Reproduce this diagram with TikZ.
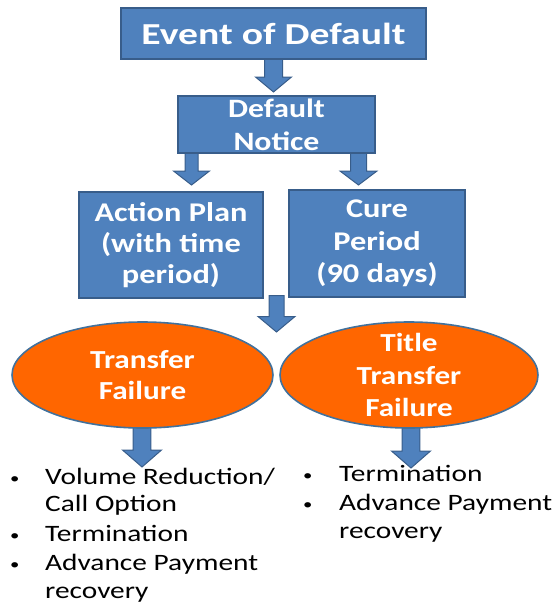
\documentclass[tikz,border=0pt]{standalone}
\usepackage{fontspec}
\setmainfont{Carlito}
\newfontfamily\boxfont[FakeStretch=1.2]{Carlito}
\newfontfamily\topfont[FakeStretch=1.3]{Carlito}
\newfontfamily\listfont[FakeStretch=1.25]{Carlito}
\usetikzlibrary{shapes.geometric,calc,backgrounds}
\definecolor{boxblue}{HTML}{4F81BD}
\definecolor{bordblue}{HTML}{385D8A}
\definecolor{ovorange}{HTML}{FF6600}
\definecolor{ovborder}{HTML}{41719C}
\newcommand\barw[5]{%
  \path[barrow] let \p1=(#1), \p2=(#2) in
    (\x2-#3,\y1+3pt) -- (\x2+#3,\y1+3pt) -- (\x2+#3,\y2+#5) -- (\x2+#4,\y2+#5)
    -- (\x2,\y2) -- (\x2-#4,\y2+#5) -- (\x2-#3,\y2+#5) -- cycle;}
\newcommand\bul{\raisebox{1pt}{\fontsize{15}{15}\selectfont •}}
\begin{document}
\begin{tikzpicture}[x=1pt,y=-1pt,
  bx/.style={draw=bordblue, fill=boxblue, line width=1.3pt, inner sep=0pt,
    text=white, align=center},
  ov/.style={ellipse, draw=ovborder, fill=ovorange, line width=1.6pt, inner sep=0pt},
  ovtext/.style={text=white, align=center, inner sep=0pt,
    font=\boxfont\bfseries\fontsize{26}{31.5}\selectfont},
  barrow/.style={draw=bordblue, fill=boxblue, line width=1pt, line join=miter},
  lst/.style={anchor=base west, inner sep=0pt, font=\listfont\fontsize{23.5}{27.5}\selectfont}]
\useasboundingbox (0,0) rectangle (556,611);

% boxes
\node[bx, minimum width=305pt, minimum height=51pt,
  font=\topfont\bfseries\fontsize{30.5}{36}\selectfont] (eod) at (273.5,33.5) {Event of Default};
\node[bx, minimum width=197pt, minimum height=57pt,
  font=\boxfont\bfseries\fontsize{26.5}{33}\selectfont] (dn) at (276.5,124.5) {Default\\Notice};
\node[bx, minimum width=184pt, minimum height=106pt,
  font=\boxfont\bfseries\fontsize{27}{31}\selectfont] (ap) at (171,245) {Action Plan\\(with time\\period)};
\node[bx, minimum width=176pt, minimum height=107pt,
  font=\boxfont\bfseries\fontsize{27}{32.5}\selectfont] (cp) at (377,243.5) {Cure\\Period\\(90 days)};

% ellipses
\node[ov, minimum width=261pt, minimum height=106pt] (tf) at (142.5,375) {};
\node[ovtext] (tft) at (tf.center) {Transfer\\Failure};
\node[ov, minimum width=258pt, minimum height=106pt] (ttf) at (409,375) {};
\node[ovtext, font=\boxfont\bfseries\fontsize{26}{32.5}\selectfont] (ttft) at (ttf.center) {Title\\Transfer\\Failure};

% bullet lists
\node[lst] (l1) at (10,484.3) {\begin{tabular}[t]{@{}p{35pt}@{}l@{}}
  \bul & Volume Reduction/\\
       & Call Option\\[2pt]
  \bul & Termination\\[2pt]
  \bul & Advance Payment\\
       & recovery
\end{tabular}};
\node[lst] (l2) at (303,481) {\begin{tabular}[t]{@{}p{36pt}@{}l@{}}
  \bul & Termination\\[2pt]
  \bul & Advance Payment\\
       & recovery
\end{tabular}};

% arrow tips
\coordinate (t1) at (273.5,92);
\coordinate (t2) at (191.5,185);
\coordinate (t3) at (358.5,185);
\coordinate (t4) at (276.5,332);
\coordinate (t5) at (142,467);
\coordinate (t6) at (411,468);

\begin{scope}[on background layer]
\barw{eod.south}{t1}{9pt}{18pt}{15pt}
\barw{dn.south}{t2}{6.5pt}{18pt}{14pt}
\barw{dn.south}{t3}{8pt}{18.5pt}{14pt}
\barw{ap.south}{t4}{7.5pt}{18.5pt}{15.5pt}
\barw{tf.south}{t5}{8.8pt}{19.5pt}{17pt}
\barw{ttf.south}{t6}{8.8pt}{19.5pt}{17pt}
\end{scope}
\end{tikzpicture}
\end{document}
